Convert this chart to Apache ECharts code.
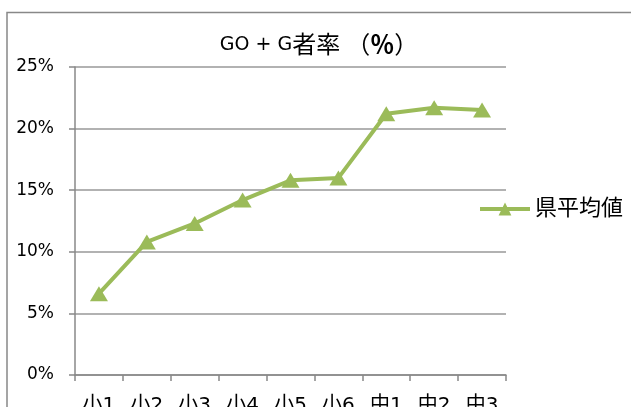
<!DOCTYPE html>
<html><head><meta charset="utf-8">
<script src="https://cdn.jsdelivr.net/npm/echarts@6/dist/echarts.min.js"></script>
<style>html,body{margin:0;padding:0;background:#fff}#c{width:631px;height:407px}</style>
</head><body><div id="c"></div>
<script>
const categories = ['小1','小2','小3','小4','小5','小6','中1','中2','中3'];
const prefAvg = [6.6, 10.8, 12.3, 14.2, 15.8, 16.0, 21.2, 21.7, 21.5];
const yTicks = [0, 5, 10, 15, 20, 25];
const seriesName = '県平均値';
const titleLatin = 'GO + G';
const titleCjk = '者率';
const titleOpen = '（';
const titlePct = '％';
const titleEnd = '）';

const chart = echarts.init(document.getElementById('c'));
const font = 'Verdana, "DejaVu Sans", "Noto Sans CJK JP", sans-serif';
const cjk = '"Noto Sans CJK JP", sans-serif';
chart.setOption({
  animation: false,
  title: { text: '{a|' + titleLatin + '}{c|' + titleCjk + '}{s| }{c|' + titleOpen + '}{b|' + titlePct + '}{c|' + titleEnd + '}',
    left: 314, top: 26, textAlign: 'center',
    textStyle: { fontSize: 19, fontWeight: 'normal', color: '#000', fontFamily: font,
      rich: {
        a: { fontSize: 19, color: '#000', fontFamily: font, lineHeight: 28 },
        c: { fontSize: 24, color: '#000', fontFamily: cjk, lineHeight: 28, padding: [0, 0, 3, 0] },
        s: { fontSize: 19, width: 6, lineHeight: 28 },
        b: { fontSize: 24, fontWeight: 'bold', color: '#000', fontFamily: cjk, lineHeight: 28, padding: [0, 0, 3, 0] }
      } } },
  legend: { left: 478, top: 198, padding: 0, orient: 'vertical', itemWidth: 50, itemHeight: 16, itemGap: 4,
    textStyle: { fontSize: 22, color: '#000', fontFamily: font, padding: [0, 0, 0, 0] },
    lineStyle: { width: 4, color: '#9BBB59' },
    data: [{ name: seriesName }] },
  grid: { left: 75, right: 125, top: 67, bottom: 32, outerBoundsMode: 'none', containLabel: false },
  xAxis: { type: 'category', data: categories, boundaryGap: true,
    axisLine: { lineStyle: { color: '#888', width: 1.5 } },
    axisTick: { show: true, length: 6, lineStyle: { color: '#888', width: 1.5 } },
    axisLabel: { fontSize: 20, color: '#000', margin: 21, fontFamily: font } },
  yAxis: { type: 'value', min: yTicks[0], max: yTicks[yTicks.length-1], interval: 5,
    axisLine: { show: true, lineStyle: { color: '#888', width: 1.5 } },
    axisTick: { show: true, length: 6, lineStyle: { color: '#888', width: 1.5 } },
    splitLine: { lineStyle: { color: '#999', width: 1.5 } },
    axisLabel: { formatter: '{value}%', fontSize: 17, color: '#000', margin: 21, fontFamily: font } },
  series: [{ name: seriesName, type: 'line', data: prefAvg,
    symbol: 'triangle', symbolSize: [18, 15],
    lineStyle: { color: '#9BBB59', width: 4 },
    itemStyle: { color: '#9BBB59' } }],
  graphic: [{ type: 'polyline', silent: true,
    shape: { points: [[7, 407], [7, 12.5], [631, 12.5]] },
    style: { stroke: '#888', lineWidth: 1.5, fill: null } }]
});
</script></body></html>
